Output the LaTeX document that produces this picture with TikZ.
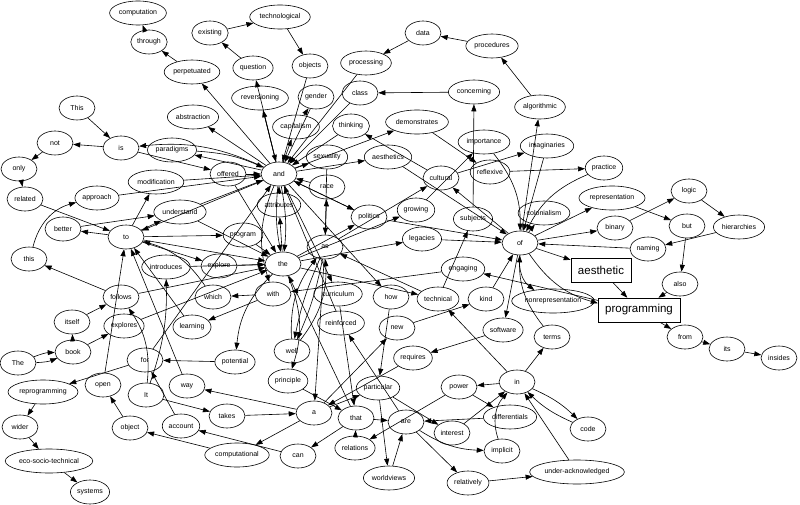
\documentclass[tikz,border=0pt]{standalone}
\usepackage{fontspec}
\setmainfont{Liberation Sans}
\usetikzlibrary{arrows.meta}
\usetikzlibrary{shapes.geometric}

\begin{document}
\begin{tikzpicture}[x=1pt,y=-1pt,line width=0.6pt,
    >={Triangle[length=7pt,width=5pt]},
    word/.style={draw,ellipse,inner xsep=1pt,inner ysep=1pt,minimum width=36pt,minimum height=24pt,font=\fontsize{7}{8}\selectfont},
    tag/.style={draw,rectangle,inner xsep=7pt,minimum height=24pt,font=\fontsize{11.5}{13}\selectfont}]
    \useasboundingbox (0,0) rectangle (800,505);
    % top
    \node[word] (comp) at (138,13) {computation};
    \node[word] (through) at (149,42) {through};
    \node[word] (perp) at (192,72) {perpetuated};
    \node[word] (exist) at (210,33) {existing};
    \node[word] (techno) at (280,17) {technological};
    \node[word] (quest) at (253,68) {question};
    \node[word] (objects) at (310,66) {objects};
    \node[word] (reversion) at (260,98) {reversioning};
    \node[word] (gender) at (316,97) {gender};
    \node[word] (capital) at (296,127) {capitalism};
    \node[word] (proc) at (366,63) {processing};
    \node[word] (class) at (360,93) {class};
    \node[word] (data) at (423,33) {data};
    \node[word] (procs) at (492,46) {procedures};
    \node[word] (concern) at (474,92) {concerning};
    \node[word] (thinking) at (351,126) {thinking};
    \node[word] (demo) at (417,122) {demonstrates};
    \node[word] (abstr) at (193,117) {abstraction};
    \node[word] (paradigms) at (172,150) {paradigms};
    \node[word] (offered) at (228,174) {offered};
    \node[word] (and) at (279,174) {and};
    \node[word] (sex) at (327,157) {sexuality};
    \node[word] (aesth) at (388,157) {aesthetics};
    \node[word] (import) at (484,142) {importance};
    \node[word] (reflexive) at (490,172) {reflexive};
    \node[word] (cultural) at (441,178) {cultural};
    \node[word] (algo) at (540,107) {algorithmic};
    \node[word] (imagin) at (547,146) {imaginaries};
    \node[word] (practice) at (604,168) {practice};
    % left
    \node[word] (This) at (77,108) {This};
    \node[word] (is) at (121,148) {is};
    \node[word] (not) at (55,143) {not};
    \node[word] (only) at (19,169) {only};
    \node[word] (related) at (25,199) {related};
    \node[word] (modif) at (156,182) {modification};
    \node[word] (approach) at (97,198) {approach};
    \node[word] (underst) at (180,212) {understand};
    \node[word] (better) at (63,229) {better};
    \node[word] (to) at (126,237) {to};
    \node[word] (program) at (243,235) {program};
    \node[word] (this) at (29,259) {this};
    \node[word] (intro) at (166,267) {introduces};
    \node[word] (explore) at (219,266) {explore};
    \node[word] (follows) at (121,297) {follows};
    \node[word] (which) at (213,297) {which};
    \node[word] (itself) at (72,322) {itself};
    \node[word] (explores) at (124,326) {explores};
    \node[word] (learning) at (192,327) {learning};
    % middle
    \node[word] (race) at (327,187) {race};
    \node[word] (attr) at (279,205) {attributes};
    \node[word] (politics) at (369,217) {politics};
    \node[word] (growing) at (416,210) {growing};
    \node[word] (subjects) at (473,219) {subjects};
    \node[word] (legacies) at (422,239) {legacies};
    \node[word] (as) at (325,247) {as};
    \node[word] (of) at (520,243) {of};
    \node[word] (the) at (283,264) {the};
    \node[word] (engaging) at (463,269) {engaging};
    \node[word] (with) at (273,294) {with};
    \node[word] (curric) at (338,294) {curriculum};
    \node[word] (how) at (391,297) {how};
    \node[word] (technical) at (438,299) {technical};
    \node[word] (kind) at (486,299) {kind};
    \node[word] (reinf) at (341,323) {reinforced};
    \node[word] (new) at (397,328) {new};
    \node[word] (well) at (292,351) {well};
    % right
    \node[word] (colon) at (544,213) {colonialism};
    \node[word] (repr) at (612,198) {representation};
    \node[word] (logic) at (689,191) {logic};
    \node[word] (binary) at (615,228) {binary};
    \node[word] (but) at (687,226) {but};
    \node[word] (hier) at (739,227) {hierarchies};
    \node[word] (naming) at (648,249) {naming};
    \node[tag] (aesthetic) at (601,270) {aesthetic};
    \node[word] (also) at (680,284) {also};
    \node[word] (nonrepr) at (553,301) {nonrepresentation};
    \node[tag] (programming) at (639,310) {programming};
    \node[word] (software) at (503,330) {software};
    \node[word] (terms) at (552,337) {terms};
    \node[word] (from) at (685,337) {from};
    \node[word] (its) at (727,349) {its};
    \node[word] (insides) at (779,358) {insides};
    % bottom
    \node[word] (The) at (18,363) {The};
    \node[word] (book) at (73,352) {book};
    \node[word] (for) at (145,360) {for};
    \node[word] (potential) at (235,362) {potential};
    \node[word] (reprog) at (43,392) {reprogramming};
    \node[word] (open) at (103,385) {open};
    \node[word] (way) at (187,386) {way};
    \node[word] (It) at (146,395) {It};
    \node[word] (takes) at (227,416) {takes};
    \node[word] (wider) at (20,427) {wider};
    \node[word] (object) at (130,428) {object};
    \node[word] (account) at (181,426) {account};
    \node[word] (computational) at (237,455) {computational};
    \node[word] (eco) at (49,461) {eco-socio-technical};
    \node[word] (systems) at (90,492) {systems};
    \node[word] (requires) at (413,358) {requires};
    \node[word] (principle) at (288,381) {principle};
    \node[word] (particular) at (378,388) {particular};
    \node[word] (power) at (459,387) {power};
    \node[word] (in) at (517,382) {in};
    \node[word] (diff) at (510,417) {differentials};
    \node[word] (code) at (588,429) {code};
    \node[word] (a) at (314,413) {a};
    \node[word] (that) at (356,418) {that};
    \node[word] (are) at (406,422) {are};
    \node[word] (interest) at (452,433) {interest};
    \node[word] (implicit) at (502,451) {implicit};
    \node[word] (can) at (298,456) {can};
    \node[word] (relations) at (355,448) {relations};
    \node[word] (worldviews) at (389,478) {worldviews};
    \node[word] (relatively) at (468,483) {relatively};
    \node[word] (under) at (577,472) {under-acknowledged};
    % edges
    \draw[->] (through) to (comp);
    \draw[->] (perp) to (through);
    \draw[->] (and) to (perp);
    \draw[->] (exist) to (techno);
    \draw[->] (quest) to (exist);
    \draw[->] (techno) to (objects);
    \draw[->] (objects) to (and);
    \draw[->] (and) to (quest);
    \draw[->] (and) to (reversion);
    \draw[->] (reversion) to (and);
    \draw[->] (and) to (capital);
    \draw[->] (capital) to (gender);
    \draw[->] (gender) to (and);
    \draw[->] (proc) to (and);
    \draw[->] (class) to (and);
    \draw[->] (data) to (proc);
    \draw[->] (procs) to (data);
    \draw[->] (concern) to (class);
    \draw[->] (algo) to (procs);
    \draw[->] (thinking) to (and);
    \draw[->] (and) to (demo);
    \draw[->] (demo) to (reflexive);
    \draw[->] (and) to (sex);
    \draw[->] (and) to (aesth);
    \draw[->] (aesth) to (of);
    \draw[->] (sex) to (as);
    \draw[->] (and) to (abstr);
    \draw[->] (and) to (paradigms);
    \draw[->] (paradigms) to[bend left=10] (and);
    \draw[->] (and) to[bend right=15] (is);
    \draw[->] (is) to (offered);
    \draw[->] (offered) to (and);
    \draw[->] (offered) to (the);
    \draw[->] (This) to (is);
    \draw[->] (is) to (not);
    \draw[->] (not) to (only);
    \draw[->] (only) to (related);
    \draw[->] (related) to (to);
    \draw[->] (this) to[bend left=30] (approach);
    \draw[->] (approach) to (and);
    \draw[->] (to) to (modif);
    \draw[->] (modif) to (and);
    \draw[->] (to) to (better);
    \draw[->] (better) to (underst);
    \draw[->] (to) to (underst);
    \draw[->] (underst) to (and);
    \draw[->] (underst) to (the);
    \draw[->] (and) to (to);
    \draw[->] (to) to (program);
    \draw[->] (program) to (the);
    \draw[->] (to) to (explore);
    \draw[->] (explore) to (the);
    \draw[->] (to) to (the);
    \draw[->] (which) to[bend right=20] (to);
    \draw[->] (learning) to (to);
    \draw[->] (way) to (to);
    \draw[->] (open) to (to);
    \draw[->] (follows) to (this);
    \draw[->] (follows) to (the);
    \draw[->] (itself) to (follows);
    \draw[->] (book) to (itself);
    \draw[->] (book) to (explores);
    \draw[->] (explores) to (the);
    \draw[->] (The) to[bend left=10] (book);
    \draw[->] (The) to[bend right=10] (book);
    \draw[->] (It) to[bend right=20] (follows);
    \draw[->] (It) to[bend right=10] (intro);
    \draw[->] (It) to (takes);
    \draw[->] (intro) to (the);
    \draw[->] (with) to (which);
    \draw[->] (with) to (learning);
    \draw[->] (and) to[bend right=20] (with);
    \draw[->] (the) to (attr);
    \draw[->] (attr) to (and);
    \draw[->] (the) to (politics);
    \draw[->] (and) to (politics);
    \draw[->] (politics) to (and);
    \draw[->] (politics) to (of);
    \draw[->] (race) to (and);
    \draw[->] (as) to (race);
    \draw[->] (and) to[bend left=8] (the);
    \draw[->] (and) to[bend right=8] (the);
    \draw[->] (as) to[bend left=6] (well);
    \draw[->] (as) to[bend right=6] (well);
    \draw[->] (well) to[bend left=20] (as);
    \draw[->] (well) to[bend right=20] (as);
    \draw[->] (as) to (cultural);
    \draw[->] (the) to (growing);
    \draw[->] (growing) to (import);
    \draw[->] (import) to[bend left=20] (of);
    \draw[->] (reflexive) to (practice);
    \draw[->] (practice) to[bend right=20] (of);
    \draw[->] (imagin) to (of);
    \draw[->] (of) to (algo);
    \draw[->] (of) to (colon);
    \draw[->] (of) to (repr);
    \draw[->] (of) to (binary);
    \draw[->] (naming) to (of);
    \draw[->] (of) to (aesthetic);
    \draw[->] (of) to[bend right=20] (programming);
    \draw[->] (of) to (software);
    \draw[->] (of) to (cultural);
    \draw[->] (cultural) to (imagin);
    \draw[->] (cultural) to (thinking);
    \draw[->] (legacies) to (of);
    \draw[->] (the) to (legacies);
    \draw[->] (subjects) to (concern);
    \draw[->] (technical) to (subjects);
    \draw[->] (kind) to (of);
    \draw[->] (new) to (kind);
    \draw[->] (the) to (technical);
    \draw[->] (technical) to (as);
    \draw[->] (in) to (technical);
    \draw[->] (programming) to (engaging);
    \draw[->] (engaging) to (with);
    \draw[->] (of) to[bend right=30] (nonrepr);
    \draw[->] (repr) to (but);
    \draw[->] (but) to (also);
    \draw[->] (also) to (programming);
    \draw[->] (binary) to (logic);
    \draw[->] (logic) to (hier);
    \draw[->] (hier) to (naming);
    \draw[->] (aesthetic) to (programming);
    \draw[->] (programming) to (from);
    \draw[->] (from) to (its);
    \draw[->] (its) to (insides);
    \draw[->] (terms) to[bend left=20] (of);
    \draw[->] (in) to (terms);
    \draw[->] (software) to (requires);
    \draw[->] (requires) to (a);
    \draw[->] (a) to (new);
    \draw[->] (a) to (particular);
    \draw[->] (a) to (way);
    \draw[->] (a) to (computational);
    \draw[->] (takes) to (a);
    \draw[->] (as) to (a);
    \draw[->] (computational) to (object);
    \draw[->] (object) to (open);
    \draw[->] (can) to (account);
    \draw[->] (account) to (for);
    \draw[->] (for) to (and);
    \draw[->] (for) to (reprog);
    \draw[->] (potential) to (for);
    \draw[->] (the) to[bend right=20] (potential);
    \draw[->] (reprog) to (wider);
    \draw[->] (wider) to (eco);
    \draw[->] (eco) to (systems);
    \draw[->] (the) to[bend left=20] (principle);
    \draw[->] (principle) to (that);
    \draw[->] (that) to (the);
    \draw[->] (that) to (can);
    \draw[->] (that) to (are);
    \draw[->] (relations) to (that);
    \draw[->] (curric) to (that);
    \draw[->] (and) to (curric);
    \draw[->] (and) to (how);
    \draw[->] (how) to (particular);
    \draw[->] (particular) to (worldviews);
    \draw[->] (particular) to (interest);
    \draw[->] (worldviews) to (are);
    \draw[->] (are) to (reinf);
    \draw[->] (reinf) to (and);
    \draw[->] (are) to (relatively);
    \draw[->] (are) to[bend right=15] (implicit);
    \draw[->] (relatively) to (under);
    \draw[->] (under) to (in);
    \draw[->] (implicit) to[bend left=30] (in);
    \draw[->] (interest) to (in);
    \draw[->] (in) to (power);
    \draw[->] (power) to (relations);
    \draw[->] (power) to (diff);
    \draw[->] (diff) to (are);
    \draw[->] (in) to[bend left=10] (code);
    \draw[->] (code) to[bend left=10] (in);
\end{tikzpicture}
\end{document}
